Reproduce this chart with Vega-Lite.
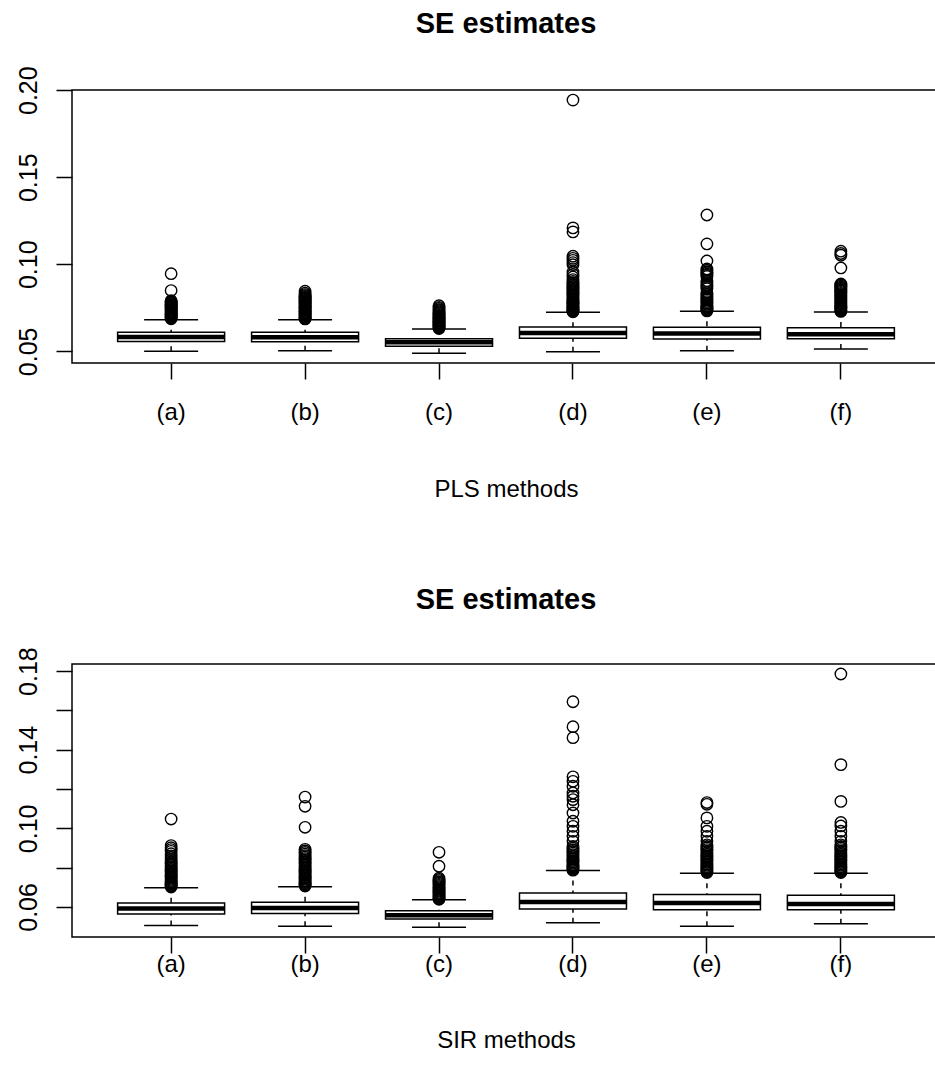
{
  "$schema": "https://vega.github.io/schema/vega-lite/v6.json",
  "background": "white",
  "padding": {"left": 15, "top": 9, "right": 0, "bottom": 0},
  "config": {
    "font": "Liberation Sans",
    "view": {"stroke": "black", "strokeWidth": 1.5},
    "axis": {"domain": false, "grid": false, "tickColor": "black", "tickWidth": 1.5, "labelColor": "black", "labelFontSize": 24, "titleFontSize": 24, "titleFontWeight": "normal", "titleColor": "black", "labelFont": "Liberation Sans", "titleFont": "Liberation Sans"},
    "axisY": {"title": null, "labelAngle": -90, "labelAlign": "center", "labelBaseline": "bottom", "labelPadding": 15, "tickSize": 16, "labelFlush": false, "labelOverlap": false, "labelFontSize": 25},
    "title": {"font": "Liberation Sans", "color": "black"}
  },
  "spacing": 82,
  "datasets": {
    "pls_box": [
      {"method": "(a)", "lower": 0.0500, "q1": 0.0556, "median": 0.0582, "q3": 0.0609, "upper": 0.0682},
      {"method": "(b)", "lower": 0.0504, "q1": 0.0555, "median": 0.0581, "q3": 0.0609, "upper": 0.0682},
      {"method": "(c)", "lower": 0.0489, "q1": 0.0529, "median": 0.0552, "q3": 0.0573, "upper": 0.0628},
      {"method": "(d)", "lower": 0.0498, "q1": 0.0575, "median": 0.0605, "q3": 0.0640, "upper": 0.0724},
      {"method": "(e)", "lower": 0.0504, "q1": 0.0571, "median": 0.0603, "q3": 0.0638, "upper": 0.0730},
      {"method": "(f)", "lower": 0.0513, "q1": 0.0573, "median": 0.0598, "q3": 0.0636, "upper": 0.0726}
    ],
    "pls_out": [
      {"method": "(a)", "value": 0.0946}, {"method": "(a)", "value": 0.0849}, {"method": "(a)", "value": 0.0791}, {"method": "(a)", "value": 0.0786}, {"method": "(a)", "value": 0.0782}, {"method": "(a)", "value": 0.0777}, {"method": "(a)", "value": 0.0773}, {"method": "(a)", "value": 0.0768}, {"method": "(a)", "value": 0.0764}, {"method": "(a)", "value": 0.0760}, {"method": "(a)", "value": 0.0755}, {"method": "(a)", "value": 0.0751}, {"method": "(a)", "value": 0.0747}, {"method": "(a)", "value": 0.0742}, {"method": "(a)", "value": 0.0738}, {"method": "(a)", "value": 0.0734}, {"method": "(a)", "value": 0.0729}, {"method": "(a)", "value": 0.0725}, {"method": "(a)", "value": 0.0721}, {"method": "(a)", "value": 0.0716}, {"method": "(a)", "value": 0.0712}, {"method": "(a)", "value": 0.0708}, {"method": "(a)", "value": 0.0703}, {"method": "(a)", "value": 0.0699}, {"method": "(a)", "value": 0.0695}, {"method": "(a)", "value": 0.0691}, {"method": "(a)", "value": 0.0687},
      {"method": "(b)", "value": 0.0845}, {"method": "(b)", "value": 0.0834}, {"method": "(b)", "value": 0.0826}, {"method": "(b)", "value": 0.0820}, {"method": "(b)", "value": 0.0815}, {"method": "(b)", "value": 0.0810}, {"method": "(b)", "value": 0.0806}, {"method": "(b)", "value": 0.0801}, {"method": "(b)", "value": 0.0797}, {"method": "(b)", "value": 0.0792}, {"method": "(b)", "value": 0.0788}, {"method": "(b)", "value": 0.0783}, {"method": "(b)", "value": 0.0779}, {"method": "(b)", "value": 0.0774}, {"method": "(b)", "value": 0.0770}, {"method": "(b)", "value": 0.0765}, {"method": "(b)", "value": 0.0761}, {"method": "(b)", "value": 0.0756}, {"method": "(b)", "value": 0.0752}, {"method": "(b)", "value": 0.0747}, {"method": "(b)", "value": 0.0743}, {"method": "(b)", "value": 0.0738}, {"method": "(b)", "value": 0.0734}, {"method": "(b)", "value": 0.0729}, {"method": "(b)", "value": 0.0725}, {"method": "(b)", "value": 0.0720}, {"method": "(b)", "value": 0.0716}, {"method": "(b)", "value": 0.0711}, {"method": "(b)", "value": 0.0707}, {"method": "(b)", "value": 0.0702}, {"method": "(b)", "value": 0.0698}, {"method": "(b)", "value": 0.0693}, {"method": "(b)", "value": 0.0689}, {"method": "(b)", "value": 0.0686},
      {"method": "(c)", "value": 0.0762}, {"method": "(c)", "value": 0.0753}, {"method": "(c)", "value": 0.0746}, {"method": "(c)", "value": 0.0739}, {"method": "(c)", "value": 0.0733}, {"method": "(c)", "value": 0.0727}, {"method": "(c)", "value": 0.0722}, {"method": "(c)", "value": 0.0717}, {"method": "(c)", "value": 0.0712}, {"method": "(c)", "value": 0.0707}, {"method": "(c)", "value": 0.0702}, {"method": "(c)", "value": 0.0698}, {"method": "(c)", "value": 0.0693}, {"method": "(c)", "value": 0.0689}, {"method": "(c)", "value": 0.0684}, {"method": "(c)", "value": 0.0680}, {"method": "(c)", "value": 0.0675}, {"method": "(c)", "value": 0.0671}, {"method": "(c)", "value": 0.0666}, {"method": "(c)", "value": 0.0662}, {"method": "(c)", "value": 0.0657}, {"method": "(c)", "value": 0.0653}, {"method": "(c)", "value": 0.0648}, {"method": "(c)", "value": 0.0644}, {"method": "(c)", "value": 0.0639}, {"method": "(c)", "value": 0.0635}, {"method": "(c)", "value": 0.0631},
      {"method": "(d)", "value": 0.1943}, {"method": "(d)", "value": 0.1209}, {"method": "(d)", "value": 0.1186}, {"method": "(d)", "value": 0.1046}, {"method": "(d)", "value": 0.1034}, {"method": "(d)", "value": 0.1023}, {"method": "(d)", "value": 0.1010}, {"method": "(d)", "value": 0.0998}, {"method": "(d)", "value": 0.0955}, {"method": "(d)", "value": 0.0941}, {"method": "(d)", "value": 0.0927}, {"method": "(d)", "value": 0.0912}, {"method": "(d)", "value": 0.0902}, {"method": "(d)", "value": 0.0894}, {"method": "(d)", "value": 0.0886}, {"method": "(d)", "value": 0.0879}, {"method": "(d)", "value": 0.0871}, {"method": "(d)", "value": 0.0864}, {"method": "(d)", "value": 0.0857}, {"method": "(d)", "value": 0.0850}, {"method": "(d)", "value": 0.0843}, {"method": "(d)", "value": 0.0836}, {"method": "(d)", "value": 0.0829}, {"method": "(d)", "value": 0.0822}, {"method": "(d)", "value": 0.0815}, {"method": "(d)", "value": 0.0808}, {"method": "(d)", "value": 0.0802}, {"method": "(d)", "value": 0.0796}, {"method": "(d)", "value": 0.0790}, {"method": "(d)", "value": 0.0784}, {"method": "(d)", "value": 0.0778}, {"method": "(d)", "value": 0.0772}, {"method": "(d)", "value": 0.0766}, {"method": "(d)", "value": 0.0761}, {"method": "(d)", "value": 0.0756}, {"method": "(d)", "value": 0.0751}, {"method": "(d)", "value": 0.0746}, {"method": "(d)", "value": 0.0742}, {"method": "(d)", "value": 0.0738}, {"method": "(d)", "value": 0.0734}, {"method": "(d)", "value": 0.0730}, {"method": "(d)", "value": 0.0727},
      {"method": "(e)", "value": 0.1283}, {"method": "(e)", "value": 0.1117}, {"method": "(e)", "value": 0.1019}, {"method": "(e)", "value": 0.0973}, {"method": "(e)", "value": 0.0966}, {"method": "(e)", "value": 0.0958}, {"method": "(e)", "value": 0.0951}, {"method": "(e)", "value": 0.0944}, {"method": "(e)", "value": 0.0937}, {"method": "(e)", "value": 0.0930}, {"method": "(e)", "value": 0.0906}, {"method": "(e)", "value": 0.0895}, {"method": "(e)", "value": 0.0884}, {"method": "(e)", "value": 0.0876}, {"method": "(e)", "value": 0.0868}, {"method": "(e)", "value": 0.0860}, {"method": "(e)", "value": 0.0838}, {"method": "(e)", "value": 0.0828}, {"method": "(e)", "value": 0.0818}, {"method": "(e)", "value": 0.0810}, {"method": "(e)", "value": 0.0802}, {"method": "(e)", "value": 0.0795}, {"method": "(e)", "value": 0.0786}, {"method": "(e)", "value": 0.0778}, {"method": "(e)", "value": 0.0770}, {"method": "(e)", "value": 0.0762}, {"method": "(e)", "value": 0.0755}, {"method": "(e)", "value": 0.0749}, {"method": "(e)", "value": 0.0743}, {"method": "(e)", "value": 0.0737}, {"method": "(e)", "value": 0.0732},
      {"method": "(f)", "value": 0.1075}, {"method": "(f)", "value": 0.1062}, {"method": "(f)", "value": 0.1052}, {"method": "(f)", "value": 0.0979}, {"method": "(f)", "value": 0.0887}, {"method": "(f)", "value": 0.0881}, {"method": "(f)", "value": 0.0875}, {"method": "(f)", "value": 0.0869}, {"method": "(f)", "value": 0.0863}, {"method": "(f)", "value": 0.0857}, {"method": "(f)", "value": 0.0851}, {"method": "(f)", "value": 0.0845}, {"method": "(f)", "value": 0.0839}, {"method": "(f)", "value": 0.0833}, {"method": "(f)", "value": 0.0827}, {"method": "(f)", "value": 0.0821}, {"method": "(f)", "value": 0.0815}, {"method": "(f)", "value": 0.0809}, {"method": "(f)", "value": 0.0803}, {"method": "(f)", "value": 0.0797}, {"method": "(f)", "value": 0.0791}, {"method": "(f)", "value": 0.0785}, {"method": "(f)", "value": 0.0779}, {"method": "(f)", "value": 0.0773}, {"method": "(f)", "value": 0.0767}, {"method": "(f)", "value": 0.0761}, {"method": "(f)", "value": 0.0755}, {"method": "(f)", "value": 0.0749}, {"method": "(f)", "value": 0.0743}, {"method": "(f)", "value": 0.0738}, {"method": "(f)", "value": 0.0733}, {"method": "(f)", "value": 0.0729}
    ],
    "sir_box": [
      {"method": "(a)", "lower": 0.0505, "q1": 0.0564, "median": 0.0592, "q3": 0.0620, "upper": 0.0698},
      {"method": "(b)", "lower": 0.0502, "q1": 0.0566, "median": 0.0595, "q3": 0.0624, "upper": 0.0703},
      {"method": "(c)", "lower": 0.0497, "q1": 0.0539, "median": 0.0558, "q3": 0.0581, "upper": 0.0637},
      {"method": "(d)", "lower": 0.0519, "q1": 0.0590, "median": 0.0625, "q3": 0.0671, "upper": 0.0785},
      {"method": "(e)", "lower": 0.0502, "q1": 0.0586, "median": 0.0620, "q3": 0.0663, "upper": 0.0771},
      {"method": "(f)", "lower": 0.0515, "q1": 0.0586, "median": 0.0615, "q3": 0.0659, "upper": 0.0771}
    ],
    "sir_out": [
      {"method": "(a)", "value": 0.1047}, {"method": "(a)", "value": 0.0912}, {"method": "(a)", "value": 0.0901}, {"method": "(a)", "value": 0.0892}, {"method": "(a)", "value": 0.0883}, {"method": "(a)", "value": 0.0871}, {"method": "(a)", "value": 0.0860}, {"method": "(a)", "value": 0.0851}, {"method": "(a)", "value": 0.0841}, {"method": "(a)", "value": 0.0832}, {"method": "(a)", "value": 0.0825}, {"method": "(a)", "value": 0.0818}, {"method": "(a)", "value": 0.0811}, {"method": "(a)", "value": 0.0804}, {"method": "(a)", "value": 0.0797}, {"method": "(a)", "value": 0.0790}, {"method": "(a)", "value": 0.0783}, {"method": "(a)", "value": 0.0777}, {"method": "(a)", "value": 0.0770}, {"method": "(a)", "value": 0.0764}, {"method": "(a)", "value": 0.0758}, {"method": "(a)", "value": 0.0752}, {"method": "(a)", "value": 0.0746}, {"method": "(a)", "value": 0.0740}, {"method": "(a)", "value": 0.0734}, {"method": "(a)", "value": 0.0728}, {"method": "(a)", "value": 0.0722}, {"method": "(a)", "value": 0.0716}, {"method": "(a)", "value": 0.0711}, {"method": "(a)", "value": 0.0706}, {"method": "(a)", "value": 0.0701},
      {"method": "(b)", "value": 0.1159}, {"method": "(b)", "value": 0.1112}, {"method": "(b)", "value": 0.1005}, {"method": "(b)", "value": 0.0893}, {"method": "(b)", "value": 0.0885}, {"method": "(b)", "value": 0.0877}, {"method": "(b)", "value": 0.0869}, {"method": "(b)", "value": 0.0861}, {"method": "(b)", "value": 0.0853}, {"method": "(b)", "value": 0.0846}, {"method": "(b)", "value": 0.0839}, {"method": "(b)", "value": 0.0832}, {"method": "(b)", "value": 0.0825}, {"method": "(b)", "value": 0.0818}, {"method": "(b)", "value": 0.0811}, {"method": "(b)", "value": 0.0804}, {"method": "(b)", "value": 0.0797}, {"method": "(b)", "value": 0.0790}, {"method": "(b)", "value": 0.0783}, {"method": "(b)", "value": 0.0777}, {"method": "(b)", "value": 0.0771}, {"method": "(b)", "value": 0.0765}, {"method": "(b)", "value": 0.0759}, {"method": "(b)", "value": 0.0753}, {"method": "(b)", "value": 0.0747}, {"method": "(b)", "value": 0.0741}, {"method": "(b)", "value": 0.0735}, {"method": "(b)", "value": 0.0729}, {"method": "(b)", "value": 0.0723}, {"method": "(b)", "value": 0.0717}, {"method": "(b)", "value": 0.0711}, {"method": "(b)", "value": 0.0706},
      {"method": "(c)", "value": 0.0878}, {"method": "(c)", "value": 0.0807}, {"method": "(c)", "value": 0.0746}, {"method": "(c)", "value": 0.0740}, {"method": "(c)", "value": 0.0734}, {"method": "(c)", "value": 0.0727}, {"method": "(c)", "value": 0.0721}, {"method": "(c)", "value": 0.0715}, {"method": "(c)", "value": 0.0709}, {"method": "(c)", "value": 0.0703}, {"method": "(c)", "value": 0.0697}, {"method": "(c)", "value": 0.0691}, {"method": "(c)", "value": 0.0685}, {"method": "(c)", "value": 0.0680}, {"method": "(c)", "value": 0.0674}, {"method": "(c)", "value": 0.0669}, {"method": "(c)", "value": 0.0663}, {"method": "(c)", "value": 0.0658}, {"method": "(c)", "value": 0.0653}, {"method": "(c)", "value": 0.0648}, {"method": "(c)", "value": 0.0643}, {"method": "(c)", "value": 0.0639},
      {"method": "(d)", "value": 0.1644}, {"method": "(d)", "value": 0.1517}, {"method": "(d)", "value": 0.1461}, {"method": "(d)", "value": 0.1262}, {"method": "(d)", "value": 0.1239}, {"method": "(d)", "value": 0.1214}, {"method": "(d)", "value": 0.1180}, {"method": "(d)", "value": 0.1163}, {"method": "(d)", "value": 0.1146}, {"method": "(d)", "value": 0.1120}, {"method": "(d)", "value": 0.1078}, {"method": "(d)", "value": 0.1036}, {"method": "(d)", "value": 0.1010}, {"method": "(d)", "value": 0.0985}, {"method": "(d)", "value": 0.0959}, {"method": "(d)", "value": 0.0934}, {"method": "(d)", "value": 0.0908}, {"method": "(d)", "value": 0.0899}, {"method": "(d)", "value": 0.0890}, {"method": "(d)", "value": 0.0882}, {"method": "(d)", "value": 0.0874}, {"method": "(d)", "value": 0.0866}, {"method": "(d)", "value": 0.0858}, {"method": "(d)", "value": 0.0850}, {"method": "(d)", "value": 0.0843}, {"method": "(d)", "value": 0.0836}, {"method": "(d)", "value": 0.0829}, {"method": "(d)", "value": 0.0822}, {"method": "(d)", "value": 0.0815}, {"method": "(d)", "value": 0.0809}, {"method": "(d)", "value": 0.0803}, {"method": "(d)", "value": 0.0797}, {"method": "(d)", "value": 0.0791}, {"method": "(d)", "value": 0.0787},
      {"method": "(e)", "value": 0.1131}, {"method": "(e)", "value": 0.1122}, {"method": "(e)", "value": 0.1053}, {"method": "(e)", "value": 0.1010}, {"method": "(e)", "value": 0.0985}, {"method": "(e)", "value": 0.0959}, {"method": "(e)", "value": 0.0934}, {"method": "(e)", "value": 0.0916}, {"method": "(e)", "value": 0.0908}, {"method": "(e)", "value": 0.0900}, {"method": "(e)", "value": 0.0892}, {"method": "(e)", "value": 0.0884}, {"method": "(e)", "value": 0.0876}, {"method": "(e)", "value": 0.0868}, {"method": "(e)", "value": 0.0861}, {"method": "(e)", "value": 0.0854}, {"method": "(e)", "value": 0.0847}, {"method": "(e)", "value": 0.0840}, {"method": "(e)", "value": 0.0833}, {"method": "(e)", "value": 0.0826}, {"method": "(e)", "value": 0.0819}, {"method": "(e)", "value": 0.0812}, {"method": "(e)", "value": 0.0805}, {"method": "(e)", "value": 0.0798}, {"method": "(e)", "value": 0.0792}, {"method": "(e)", "value": 0.0786}, {"method": "(e)", "value": 0.0780}, {"method": "(e)", "value": 0.0775},
      {"method": "(f)", "value": 0.1785}, {"method": "(f)", "value": 0.1324}, {"method": "(f)", "value": 0.1137}, {"method": "(f)", "value": 0.1030}, {"method": "(f)", "value": 0.1012}, {"method": "(f)", "value": 0.0985}, {"method": "(f)", "value": 0.0959}, {"method": "(f)", "value": 0.0934}, {"method": "(f)", "value": 0.0916}, {"method": "(f)", "value": 0.0908}, {"method": "(f)", "value": 0.0900}, {"method": "(f)", "value": 0.0892}, {"method": "(f)", "value": 0.0884}, {"method": "(f)", "value": 0.0876}, {"method": "(f)", "value": 0.0868}, {"method": "(f)", "value": 0.0861}, {"method": "(f)", "value": 0.0854}, {"method": "(f)", "value": 0.0847}, {"method": "(f)", "value": 0.0840}, {"method": "(f)", "value": 0.0833}, {"method": "(f)", "value": 0.0826}, {"method": "(f)", "value": 0.0819}, {"method": "(f)", "value": 0.0812}, {"method": "(f)", "value": 0.0805}, {"method": "(f)", "value": 0.0798}, {"method": "(f)", "value": 0.0792}, {"method": "(f)", "value": 0.0786}, {"method": "(f)", "value": 0.0780}, {"method": "(f)", "value": 0.0775}
    ]
  },
  "vconcat": [
    {
      "width": 868,
      "height": 273,
      "title": {"text": "SE estimates", "fontSize": 29, "fontWeight": "bold", "frame": "group", "anchor": "middle", "baseline": "alphabetic", "offset": 4},
      "encoding": {
        "x": {"field": "method", "type": "nominal", "scale": {"domain": ["(a)", "(b)", "(c)", "(d)", "(e)", "(f)"], "paddingInner": 0, "paddingOuter": 0.24},
              "axis": {"title": "PLS methods", "labelAngle": 0, "tickSize": 16, "labelPadding": 21, "titlePadding": 53}}
      },
      "layer": [
        {
          "data": {"name": "pls_box"},
          "mark": {"type": "rule", "color": "black", "strokeWidth": 1.5, "strokeDash": [5, 5]},
          "encoding": {
            "y": {"field": "lower", "type": "quantitative", "scale": {"domain": [0.0433, 0.2001], "nice": false, "zero": false}, "axis": {"title": null, "values": [0.05, 0.1, 0.15, 0.2], "format": ".2f"}},
            "y2": {"field": "q1"}
          }
        },
        {
          "data": {"name": "pls_box"},
          "mark": {"type": "rule", "color": "black", "strokeWidth": 1.5, "strokeDash": [5, 5]},
          "encoding": {"y": {"field": "upper", "type": "quantitative", "axis": {"title": null, "values": [0.05, 0.1, 0.15, 0.2], "format": ".2f"}}, "y2": {"field": "q3"}}
        },
        {
          "data": {"name": "pls_box"},
          "mark": {"type": "tick", "color": "black", "size": 54, "thickness": 1.5, "opacity": 1},
          "encoding": {"y": {"field": "lower", "type": "quantitative", "axis": {"title": null, "values": [0.05, 0.1, 0.15, 0.2], "format": ".2f"}}}
        },
        {
          "data": {"name": "pls_box"},
          "mark": {"type": "tick", "color": "black", "size": 54, "thickness": 1.5, "opacity": 1},
          "encoding": {"y": {"field": "upper", "type": "quantitative", "axis": {"title": null, "values": [0.05, 0.1, 0.15, 0.2], "format": ".2f"}}}
        },
        {
          "data": {"name": "pls_box"},
          "mark": {"type": "bar", "fill": "white", "stroke": "black", "strokeWidth": 1.5, "width": 107},
          "encoding": {"y": {"field": "q1", "type": "quantitative", "axis": {"title": null, "values": [0.05, 0.1, 0.15, 0.2], "format": ".2f"}}, "y2": {"field": "q3"}}
        },
        {
          "data": {"name": "pls_box"},
          "mark": {"type": "tick", "color": "black", "size": 107, "thickness": 4.5, "opacity": 1},
          "encoding": {"y": {"field": "median", "type": "quantitative", "axis": {"title": null, "values": [0.05, 0.1, 0.15, 0.2], "format": ".2f"}}}
        },
        {
          "data": {"name": "pls_out"},
          "mark": {"type": "point", "shape": "circle", "filled": false, "stroke": "black", "strokeWidth": 1.4, "size": 130, "opacity": 1},
          "encoding": {"y": {"field": "value", "type": "quantitative", "axis": {"title": null, "values": [0.05, 0.1, 0.15, 0.2], "format": ".2f"}}}
        }
      ]
    },
    {
      "width": 868,
      "height": 273,
      "title": {"text": "SE estimates", "fontSize": 29, "fontWeight": "bold", "frame": "group", "anchor": "middle", "baseline": "alphabetic", "offset": 9},
      "encoding": {
        "x": {"field": "method", "type": "nominal", "scale": {"domain": ["(a)", "(b)", "(c)", "(d)", "(e)", "(f)"], "paddingInner": 0, "paddingOuter": 0.24},
              "axis": {"title": "SIR methods", "labelAngle": 0, "tickSize": 16, "labelPadding": -1, "titlePadding": 52}}
      },
      "layer": [
        {
          "data": {"name": "sir_box"},
          "mark": {"type": "rule", "color": "black", "strokeWidth": 1.5, "strokeDash": [5, 5]},
          "encoding": {
            "y": {"field": "lower", "type": "quantitative", "scale": {"domain": [0.0447, 0.1836], "nice": false, "zero": false}, "axis": {"title": null, "values": [0.06, 0.08, 0.1, 0.12, 0.14, 0.16, 0.18], "labelExpr": "(round(datum.value*100) % 4 == 2) ? format(datum.value, '.2f') : ''"}},
            "y2": {"field": "q1"}
          }
        },
        {
          "data": {"name": "sir_box"},
          "mark": {"type": "rule", "color": "black", "strokeWidth": 1.5, "strokeDash": [5, 5]},
          "encoding": {"y": {"field": "upper", "type": "quantitative", "axis": {"title": null, "values": [0.06, 0.08, 0.1, 0.12, 0.14, 0.16, 0.18], "labelExpr": "(round(datum.value*100) % 4 == 2) ? format(datum.value, '.2f') : ''"}}, "y2": {"field": "q3"}}
        },
        {
          "data": {"name": "sir_box"},
          "mark": {"type": "tick", "color": "black", "size": 54, "thickness": 1.5, "opacity": 1},
          "encoding": {"y": {"field": "lower", "type": "quantitative", "axis": {"title": null, "values": [0.06, 0.08, 0.1, 0.12, 0.14, 0.16, 0.18], "labelExpr": "(round(datum.value*100) % 4 == 2) ? format(datum.value, '.2f') : ''"}}}
        },
        {
          "data": {"name": "sir_box"},
          "mark": {"type": "tick", "color": "black", "size": 54, "thickness": 1.5, "opacity": 1},
          "encoding": {"y": {"field": "upper", "type": "quantitative", "axis": {"title": null, "values": [0.06, 0.08, 0.1, 0.12, 0.14, 0.16, 0.18], "labelExpr": "(round(datum.value*100) % 4 == 2) ? format(datum.value, '.2f') : ''"}}}
        },
        {
          "data": {"name": "sir_box"},
          "mark": {"type": "bar", "fill": "white", "stroke": "black", "strokeWidth": 1.5, "width": 107},
          "encoding": {"y": {"field": "q1", "type": "quantitative", "axis": {"title": null, "values": [0.06, 0.08, 0.1, 0.12, 0.14, 0.16, 0.18], "labelExpr": "(round(datum.value*100) % 4 == 2) ? format(datum.value, '.2f') : ''"}}, "y2": {"field": "q3"}}
        },
        {
          "data": {"name": "sir_box"},
          "mark": {"type": "tick", "color": "black", "size": 107, "thickness": 4.5, "opacity": 1},
          "encoding": {"y": {"field": "median", "type": "quantitative", "axis": {"title": null, "values": [0.06, 0.08, 0.1, 0.12, 0.14, 0.16, 0.18], "labelExpr": "(round(datum.value*100) % 4 == 2) ? format(datum.value, '.2f') : ''"}}}
        },
        {
          "data": {"name": "sir_out"},
          "mark": {"type": "point", "shape": "circle", "filled": false, "stroke": "black", "strokeWidth": 1.4, "size": 130, "opacity": 1},
          "encoding": {"y": {"field": "value", "type": "quantitative", "axis": {"title": null, "values": [0.06, 0.08, 0.1, 0.12, 0.14, 0.16, 0.18], "labelExpr": "(round(datum.value*100) % 4 == 2) ? format(datum.value, '.2f') : ''"}}}
        }
      ]
    }
  ]
}
